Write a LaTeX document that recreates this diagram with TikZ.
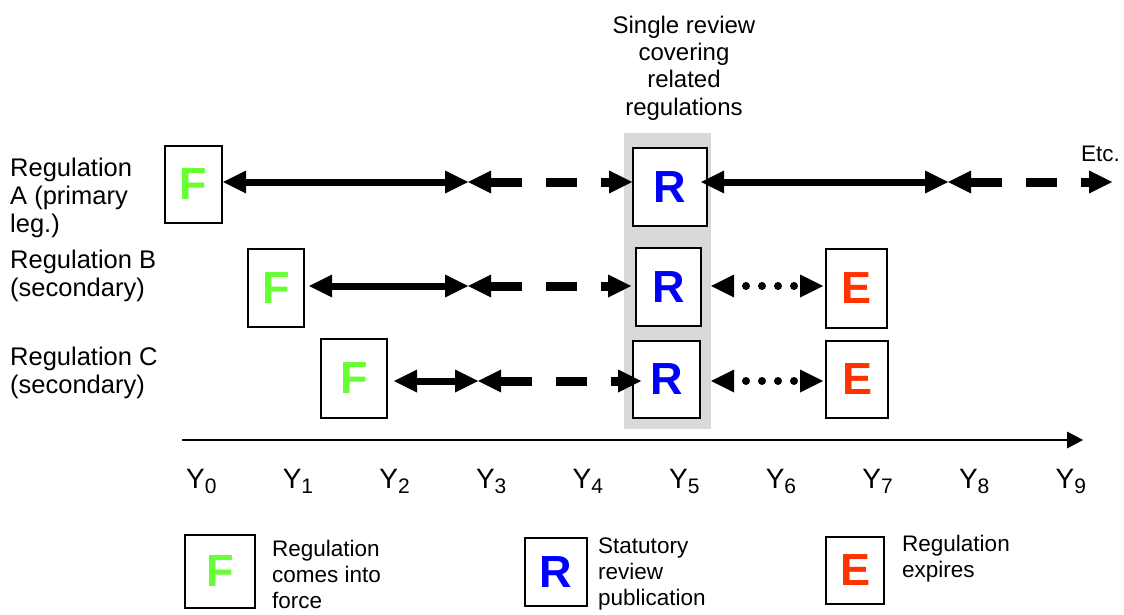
\documentclass[tikz,border=0pt]{standalone}
\usepackage{fontspec}
\setmainfont{Liberation Sans}
\usepackage{xcolor}
\definecolor{forcegreen}{RGB}{102,255,51}
\definecolor{reviewblue}{RGB}{0,0,255}
\definecolor{expirered}{RGB}{255,51,0}
\usetikzlibrary{arrows.meta}

\begin{document}
\begin{tikzpicture}[x=1pt, y=-1pt,
	box/.style={draw, line width=2pt, fill=white, inner sep=0pt, font=\fontsize{45}{45}\selectfont\bfseries},
	lbl/.style={align=left, anchor=north west, inner sep=0pt, font=\fontsize{25.5}{28}\selectfont},
	key/.style={align=left, anchor=north west, inner sep=0pt, font=\fontsize{22.5}{26}\selectfont},
	twotips/.style={arrows={Triangle[length=23pt,width=23pt,line width=0pt]-Triangle[length=23pt,width=23pt,line width=0pt]}},
	solidspan/.style={twotips, line width=7pt},
	dashspan/.style={twotips, line width=9pt, dash pattern=on 31pt off 24pt},
	dotspan/.style={twotips, line width=8pt, line cap=round, dash pattern=on 0pt off 16pt, dash phase=4pt}]
	\useasboundingbox (0,0) rectangle (1124,615);

	\fill [black!15] (624,133) rectangle (711,429);
	\node (title) [align=center, anchor=north, inner sep=0pt, font=\fontsize{24}{27.4}\selectfont] at (684,15.5) {Single review\\covering\\related\\regulations};

	\node (la) [lbl] at (10,157.4) {Regulation\\A (primary\\leg.)};
	\node (lb) [lbl] at (10,249.4) {Regulation B\\(secondary)};
	\node (lc) [lbl] at (10,346.4) {Regulation C\\(secondary)};

	\node (fa) [box, minimum width=57pt, minimum height=77pt, text=forcegreen] at (193.5,184.5) {F};
	\node (ra) [box, minimum width=74pt, minimum height=78pt, text=reviewblue] at (670,187) {R};
	\node (fb) [box, minimum width=56pt, minimum height=78pt, text=forcegreen] at (276,288) {F};
	\node (rb) [box, minimum width=65pt, minimum height=78pt, text=reviewblue] at (668.5,287) {R};
	\node (eb) [box, minimum width=61pt, minimum height=79pt, text=expirered] at (856.5,288.5) {E};
	\node (fc) [box, minimum width=66pt, minimum height=79pt, text=forcegreen] at (354,378.5) {F};
	\node (rc) [box, minimum width=67pt, minimum height=77pt, text=reviewblue] at (666.5,379.5) {R};
	\node (ec) [box, minimum width=62pt, minimum height=77pt, text=expirered] at (857,379.5) {E};

	\coordinate (a3) at (468,182);
	\coordinate (a8) at (948,182);
	\coordinate (a9) at (1112,182);
	\coordinate (b3) at (468,286);
	\coordinate (c3) at (478,381);

	\draw [solidspan] (fa.east |- a3) -- (a3);
	\draw [dashspan] (a3) -- (ra.west |- a3);
	\draw [solidspan, shorten <=-7pt] (ra.east |- a3) -- (a8);
	\draw [dashspan] (a8) -- (a9);
	\node (etc) [key, anchor=base west] at (1081,161) {Etc.};

	\draw [solidspan, shorten <=4pt] (fb.east |- b3) -- (b3);
	\draw [dashspan, shorten >=4pt] (b3) -- (rb.west |- b3);
	\draw [dotspan, shorten <=9pt, shorten >=2pt] (rb.east |- b3) -- (eb.west |- b3);

	\draw [solidspan, shorten <=6pt] (fc.east |- c3) -- (c3);
	\draw [dashspan, shorten >=-9pt] (c3) -- (rc.west |- c3);
	\draw [dotspan, shorten <=10pt, shorten >=2pt] (rc.east |- c3) -- (ec.west |- c3);

	\coordinate (t0) at (182,440);
	\coordinate (t1) at (1083,440);
	\draw [line width=1.5pt, -{Triangle[length=16pt,width=17pt,line width=0pt]}] (t0) -- (t1);
	\foreach \i in {0,...,9}
		\node (y\i) [anchor=base west, inner sep=0pt, font=\fontsize{28}{28}\selectfont] at ({186+96.6*\i},488) {Y\raisebox{-5pt}{\fontsize{21}{21}\selectfont\i}};

	\node (kf) [box, minimum width=70pt, minimum height=73pt, text=forcegreen] at (220,571.5) {F};
	\node (kft) [key] at (272,539.6) {Regulation\\comes into\\force};
	\node (kr) [box, minimum width=62pt, minimum height=68pt, text=reviewblue] at (556,572) {R};
	\node (krt) [key] at (598,537.6) {Statutory\\review\\publication};
	\node (ke) [box, minimum width=58pt, minimum height=67pt, text=expirered] at (855,570.5) {E};
	\node (ket) [key] at (902,534.6) {Regulation\\expires};
\end{tikzpicture}
\end{document}
